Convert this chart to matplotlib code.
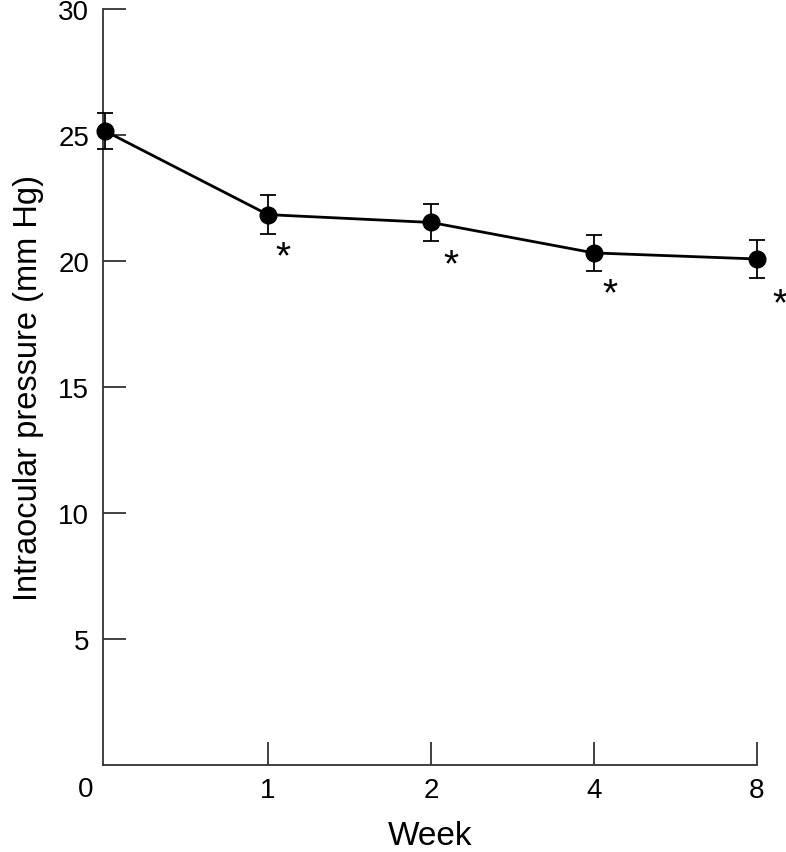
import matplotlib
matplotlib.use("Agg")
import matplotlib.pyplot as plt

weeks = ["0", "1", "2", "4", "8"]
iop_mean = [25.16, 21.84, 21.53, 20.32, 20.08]
iop_err = [0.70, 0.76, 0.72, 0.72, 0.75]
significant = [False, True, True, True, True]
star_y = [None, 20.48, 20.15, 19.02, 18.61]
star_dx = [0, 0.09, 0.12, 0.10, 0.14]

plt.rcParams['font.family'] = ['Liberation Sans', 'DejaVu Sans']

fig = plt.figure(figsize=(7.86, 8.53), dpi=100)
ax = fig.add_axes([103/786, 87/853, 654/786, 756/853])

pos = list(range(len(weeks)))
ax.errorbar(pos, iop_mean, yerr=iop_err, fmt='o-', color='black',
            markersize=12, linewidth=2, elinewidth=1.3, capsize=5.5, capthick=1.3,
            clip_on=False, zorder=3)

for i, s in enumerate(significant):
    if s:
        ax.annotate("*", xy=(pos[i] + star_dx[i], star_y[i]), xytext=(0, -6),
                    textcoords='offset points', fontsize=28, ha='center',
                    va='center', color='black', annotation_clip=False)

ax.set_xlim(-0.012, 4)
ax.set_ylim(0, 30)
ax.set_yticks([5, 10, 15, 20, 25, 30])
ax.set_xticks(pos[1:])
ax.set_xticklabels(weeks[1:])
ax.text(-0.12, -0.032, weeks[0], transform=ax.get_xaxis_transform(), fontsize=20,
        ha='center', va='center')

for sp in ['top', 'right']:
    ax.spines[sp].set_visible(False)
for sp in ['left', 'bottom']:
    ax.spines[sp].set_color('#333333')
    ax.spines[sp].set_linewidth(1.3)

ax.tick_params(axis='both', direction='in', length=16.5, width=1.3, color='#333333',
               labelsize=20, pad=9)
ax.tick_params(axis='y', pad=10)

ax.set_xlabel("Week", fontsize=24, labelpad=12)
ax.set_ylabel("Intraocular pressure (mm Hg)", fontsize=23.5, labelpad=10)

fig.savefig("out.png", dpi=100)
